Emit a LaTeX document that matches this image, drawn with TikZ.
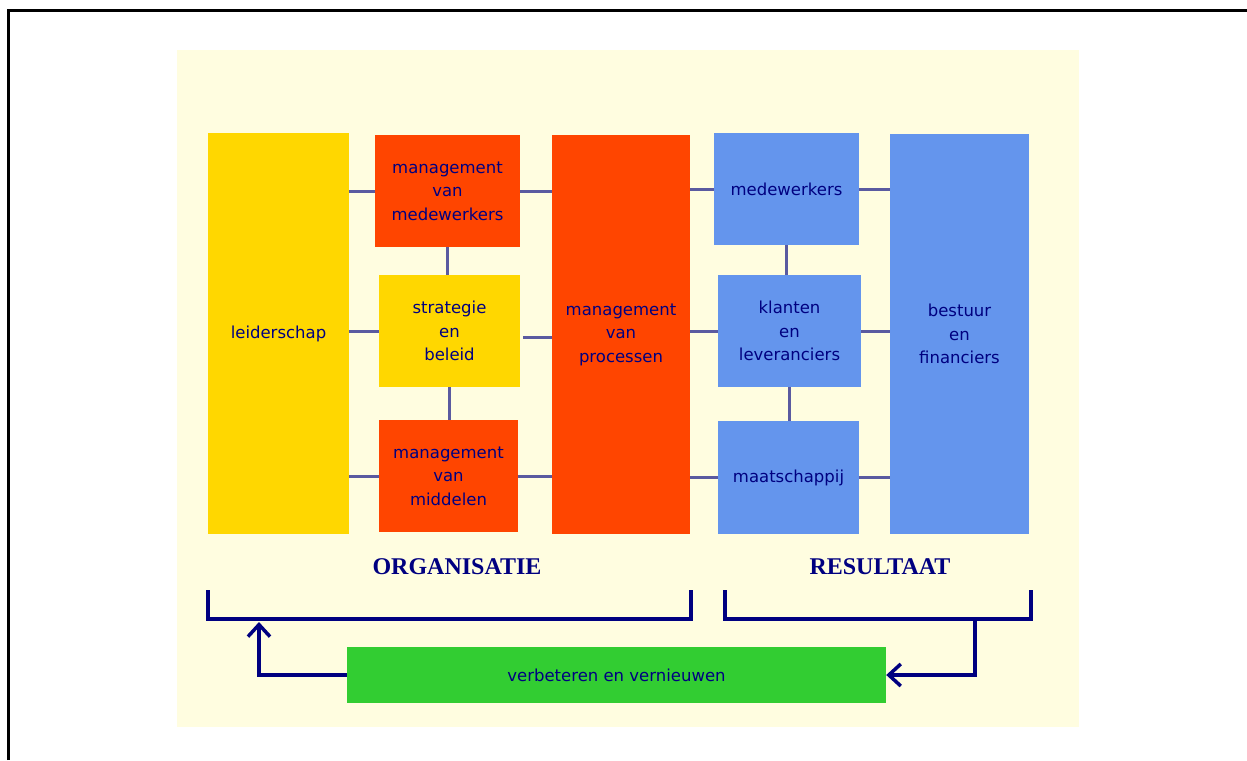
\documentclass[tikz,border=0pt]{standalone}
\usepackage{fontspec}
\setmainfont{DejaVu Sans}
\newfontfamily\kopfont{Liberation Serif}
\usepackage{tikz}
\usetikzlibrary{positioning}
\usetikzlibrary{arrows.meta}
\definecolor{room}{HTML}{FFFDE0}
\definecolor{goud}{HTML}{FFD700}
\definecolor{oranje}{HTML}{FF4500}
\definecolor{blauw}{HTML}{6495ED}
\definecolor{groen}{HTML}{32CD32}
\definecolor{inkt}{HTML}{000080}
\definecolor{lijn}{HTML}{5A5AA0}

\begin{document}
\begin{tikzpicture}[
        x=1pt, y=-1pt,
        every node/.style={rectangle,inner sep=0pt,align=center,text=inkt,
          font=\fontsize{16.5}{23.5}\selectfont},
        blok/.style={minimum width=#1},
        hoog/.style={minimum height=#1},
        geel/.style={fill=goud},
        rood/.style={fill=oranje},
        blauwblok/.style={fill=blauw},
        verbind/.style={draw=lijn,line width=3pt},
        haak/.style={draw=inkt,line width=4pt},
        terug/.style={draw=inkt,line width=4pt,-{Straight Barb[length=12pt,width=22pt,line width=3.5pt]}},
        kop/.style={font=\kopfont\bfseries\fontsize{24}{28}\selectfont}
      ]
        \useasboundingbox (0,0) rectangle (1247,760);
        \draw[line width=3pt] (8,760) -- (8,11) -- (1247,11);
        \fill[room] (177,50) rectangle (1079,727);

        \node[geel,blok=141,hoog=401] (lead) at (278.5,333.5) {leiderschap};
        \node[rood,blok=145,hoog=112] (mmw) at (447.5,191) {management\\van\\medewerkers};
        \node[geel,blok=141,hoog=112] (strat) at (449.5,331) {strategie\\en\\beleid};
        \node[rood,blok=139,hoog=112] (mid) at (448.5,476) {management\\van\\middelen};
        \node[rood,blok=138,hoog=399] (proc) at (621,334.5) {management\\van\\processen};
        \node[blauwblok,blok=145,hoog=112] (med) at (786.5,189) {medewerkers};
        \node[blauwblok,blok=143,hoog=112] (kl) at (789.5,331) {klanten\\en\\leveranciers};
        \node[blauwblok,blok=141,hoog=113] (maat) at (788.5,477.5) {maatschappij};
        \node[blauwblok,blok=139,hoog=400] (best) at (959.5,334) {bestuur\\en\\financiers};
        \node[fill=groen,blok=539,hoog=56] (verb) at (616.5,675) {verbeteren en vernieuwen};

        \draw[verbind] (mmw.west -| lead.east) -- (mmw.west);
        \draw[verbind] (strat.west -| lead.east) -- (strat.west);
        \draw[verbind] (mid.west -| lead.east) -- (mid.west);
        \draw[verbind] (mmw.east) -- (mmw.east -| proc.west);
        \draw[verbind] ([shift={(3,6)}]strat.east) -- ([yshift=-6pt]strat.east -| proc.west);
        \draw[verbind] (mid.east) -- (mid.east -| proc.west);
        \draw[verbind] (mmw.south) -- (mmw.south |- strat.north);
        \draw[verbind] (strat.south) -- (strat.south |- mid.north);
        \draw[verbind] (med.west -| proc.east) -- (med.west);
        \draw[verbind] (kl.west -| proc.east) -- (kl.west);
        \draw[verbind] (maat.west -| proc.east) -- (maat.west);
        \draw[verbind] (med.east) -- (med.east -| best.west);
        \draw[verbind] (kl.east) -- (kl.east -| best.west);
        \draw[verbind] (maat.east) -- (maat.east -| best.west);
        \draw[verbind] (med.south) -- (med.south |- kl.north);
        \draw[verbind] (kl.south) -- (kl.south |- maat.north);

        \node[kop] (org) at (457,567) {ORGANISATIE};
        \node[kop] (res) at (880,567) {RESULTAAT};

        \coordinate (orgpunt) at (259,622);
        \coordinate (respunt) at (975,619);
        \draw[haak] (208,590) |- (691,619) -- (691,590);
        \draw[haak] (725,590) |- (1031,619) -- (1031,590);
        \draw[terug] (respunt) |- (verb.east);
        \draw[terug] (verb.west) -| (orgpunt);
      \end{tikzpicture}
\end{document}
